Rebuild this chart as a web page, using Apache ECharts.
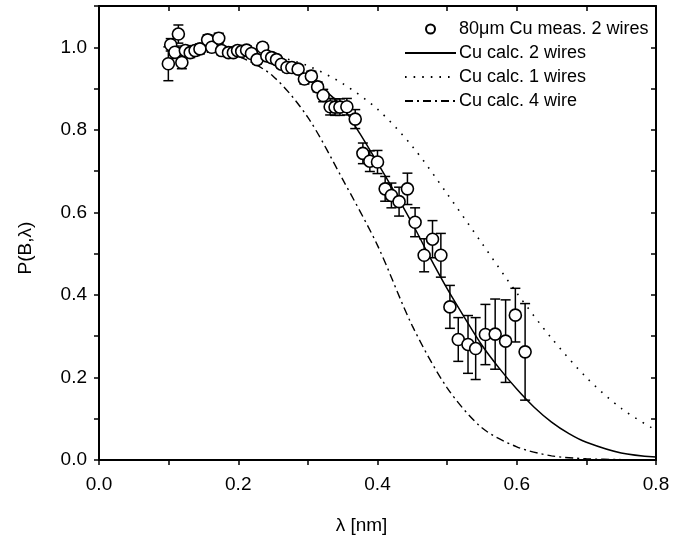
<!DOCTYPE html>
<html>
<head>
<meta charset="utf-8">
<script src="https://cdn.jsdelivr.net/npm/echarts@6/dist/echarts.min.js"></script>
<style>
  html, body { margin: 0; padding: 0; background: #fff; }
  #chart { width: 674px; height: 545px; }
</style>
</head>
<body>
<div id="chart"></div>
<script>
// measured points, 80um Cu, 2 wires
var measX = [0.0996, 0.103, 0.109, 0.114, 0.119, 0.124, 0.131, 0.138, 0.145, 0.156,
  0.162, 0.172, 0.176, 0.186, 0.193, 0.199, 0.205, 0.212, 0.219, 0.227,
  0.235, 0.241, 0.248, 0.255, 0.262, 0.270, 0.277, 0.286, 0.295, 0.305,
  0.314, 0.322, 0.332, 0.339, 0.346, 0.356, 0.368, 0.379, 0.389, 0.400,
  0.411, 0.420, 0.431, 0.443, 0.454, 0.467, 0.479, 0.491, 0.504, 0.516,
  0.530, 0.541, 0.555, 0.569, 0.584, 0.598, 0.612]
var measY = [0.960, 1.006, 0.988, 1.032, 0.963, 0.992, 0.987, 0.992, 0.996, 1.018,
  1.000, 1.022, 0.992, 0.987, 0.987, 0.992, 0.990, 0.993, 0.985, 0.970,
  1.000, 0.979, 0.975, 0.970, 0.959, 0.951, 0.951, 0.947, 0.923, 0.930,
  0.904, 0.883, 0.856, 0.855, 0.855, 0.856, 0.826, 0.743, 0.724, 0.722,
  0.657, 0.641, 0.626, 0.657, 0.576, 0.496, 0.535, 0.496, 0.371, 0.292,
  0.280, 0.270, 0.304, 0.305, 0.288, 0.351, 0.262]
var measErr = [0.041, 0.015, 0.015, 0.022, 0.015, 0.012, 0.012, 0.012, 0.012, 0.012,
  0.012, 0.012, 0.010, 0.010, 0.010, 0.010, 0.010, 0.010, 0.010, 0.010,
  0.010, 0.010, 0.010, 0.010, 0.010, 0.010, 0.010, 0.010, 0.012, 0.012,
  0.012, 0.015, 0.020, 0.020, 0.020, 0.020, 0.023, 0.025, 0.025, 0.028,
  0.030, 0.030, 0.035, 0.038, 0.035, 0.040, 0.045, 0.053, 0.052, 0.053,
  0.070, 0.075, 0.073, 0.085, 0.100, 0.065, 0.117]

// calculated curves
var calc2X = [0.10, 0.15, 0.20, 0.25, 0.30, 0.325, 0.35, 0.375, 0.40, 0.425, 0.45, 0.475,
  0.50, 0.525, 0.55, 0.575, 0.60, 0.625, 0.65, 0.675, 0.70, 0.75, 0.80]
var calc2Y = [1.000, 0.998, 0.990, 0.970, 0.930, 0.895, 0.855, 0.790, 0.720, 0.648, 0.573, 0.492,
  0.415, 0.345, 0.278, 0.222, 0.172, 0.128, 0.092, 0.064, 0.043, 0.017, 0.007]
var calc1X = [0.10, 0.15, 0.20, 0.25, 0.30, 0.35, 0.40, 0.45, 0.50, 0.55, 0.60, 0.65, 0.70, 0.75, 0.80]
var calc1Y = [1.000, 0.999, 0.994, 0.980, 0.955, 0.912, 0.850, 0.760, 0.645, 0.525, 0.405, 0.295, 0.200, 0.125, 0.072]
var calc4X = [0.10, 0.15, 0.20, 0.25, 0.30, 0.35, 0.40, 0.45, 0.50, 0.55, 0.60, 0.65, 0.70, 0.75, 0.80]
var calc4Y = [1.000, 0.995, 0.978, 0.930, 0.830, 0.680, 0.520, 0.325, 0.175, 0.078, 0.032, 0.010, 0.003, 0.001, 0.000]

var legendNames = ['80\u03bcm Cu meas. 2 wires', 'Cu calc. 2 wires', 'Cu calc. 1 wires', 'Cu calc. 4 wire']

function pairs (xs, ys) {
  var out = []
  for (var i = 0; i < xs.length; i++) out.push([xs[i], ys[i]])
  return out
}
var errData = []
for (var i = 0; i < measX.length; i++) errData.push([measX[i], measY[i], measErr[i]])

var FONT = '"Liberation Sans", Arial, sans-serif'

function evenLabel (v) {
  return Math.round(v * 10) % 2 === 0 ? v.toFixed(1) : ''
}

function axisBase (pos, show) {
  return {
    type: 'value',
    position: pos,
    axisLine: { show: true, onZero: false, lineStyle: { color: '#000', width: 2 } },
    axisTick: { show: true, inside: !show, length: 5, lineStyle: { color: '#000', width: 1.5 } },
    axisLabel: { show: show, formatter: evenLabel, color: '#000', fontSize: 19, fontFamily: FONT },
    splitLine: { show: false }
  }
}

var xBottom = axisBase('bottom', true)
xBottom.min = 0; xBottom.max = 0.8; xBottom.interval = 0.1
xBottom.axisLabel.margin = 15
xBottom.name = '\u03bb [nm]'
xBottom.nameLocation = 'middle'
xBottom.nameGap = 56
xBottom.nameTextStyle = { color: '#000', fontSize: 19, fontFamily: FONT, padding: [0, 32, 0, 0] }
var xTop = axisBase('top', false)
xTop.min = 0; xTop.max = 0.8; xTop.interval = 0.1

var yLeft = axisBase('left', true)
yLeft.min = 0; yLeft.max = 1.1; yLeft.interval = 0.1
yLeft.axisLabel.margin = 12
yLeft.name = 'P(B,\u03bb)'
yLeft.nameLocation = 'middle'
yLeft.nameGap = 64
yLeft.nameTextStyle = { color: '#000', fontSize: 19, fontFamily: FONT, padding: [0, 30, 0, 0] }
var yRight = axisBase('right', false)
yRight.min = 0; yRight.max = 1.1; yRight.interval = 0.1

// legend entries; hide the symbol dot on line icons
var legendData = legendNames.map(function (n, k) {
  return k === 0 ? { name: n } : { name: n, itemStyle: { opacity: 0 } }
})

var chart = echarts.init(document.getElementById('chart'), null, { renderer: 'canvas' })
chart.setOption({
  backgroundColor: '#fff',
  animation: false,
  grid: { left: 99, right: 18, top: 6, bottom: 85, containLabel: false },
  xAxis: [xBottom, xTop],
  yAxis: [yLeft, yRight],
  legend: {
    data: legendData,
    orient: 'vertical',
    left: 404,
    top: 20,
    padding: 0,
    itemWidth: 51,
    itemHeight: 9,
    itemGap: 6,
    textStyle: { color: '#000', fontSize: 18, fontFamily: FONT, padding: [0, 0, 0, -2] }
  },
  series: [
    {
      name: 'Cu calc. 1 wires',
      type: 'line',
      data: pairs(calc1X, calc1Y),
      smooth: 0.3,
      symbol: 'none',
      itemStyle: { color: '#000' },
      lineStyle: { color: '#000', width: 1.6, type: [1.6, 7] },
      z: 2
    },
    {
      name: 'Cu calc. 4 wire',
      type: 'line',
      data: pairs(calc4X, calc4Y),
      smooth: 0.3,
      symbol: 'none',
      itemStyle: { color: '#000' },
      lineStyle: { color: '#000', width: 1.4, type: [8, 4, 2, 4] },
      z: 2
    },
    {
      name: 'Cu calc. 2 wires',
      type: 'line',
      data: pairs(calc2X, calc2Y),
      smooth: 0.3,
      symbol: 'none',
      itemStyle: { color: '#000' },
      lineStyle: { color: '#000', width: 1.5 },
      z: 2
    },
    {
      name: 'err',
      type: 'custom',
      data: errData,
      z: 3,
      renderItem: function (params, api) {
        var x = api.value(0), y = api.value(1), e = api.value(2)
        var hi = api.coord([x, y + e])
        var lo = api.coord([x, y - e])
        var w = 5
        var st = { stroke: '#000', lineWidth: 1.5 }
        return {
          type: 'group',
          children: [
            { type: 'line', shape: { x1: hi[0], y1: hi[1], x2: lo[0], y2: lo[1] }, style: st },
            { type: 'line', shape: { x1: hi[0] - w, y1: hi[1], x2: hi[0] + w, y2: hi[1] }, style: st },
            { type: 'line', shape: { x1: lo[0] - w, y1: lo[1], x2: lo[0] + w, y2: lo[1] }, style: st }
          ]
        }
      }
    },
    {
      name: '80\u03bcm Cu meas. 2 wires',
      type: 'scatter',
      data: pairs(measX, measY),
      symbol: 'circle',
      symbolSize: 12,
      itemStyle: { color: '#fff', borderColor: '#000', borderWidth: 1.6, opacity: 1 },
      z: 4
    }
  ]
})
</script>
</body>
</html>
